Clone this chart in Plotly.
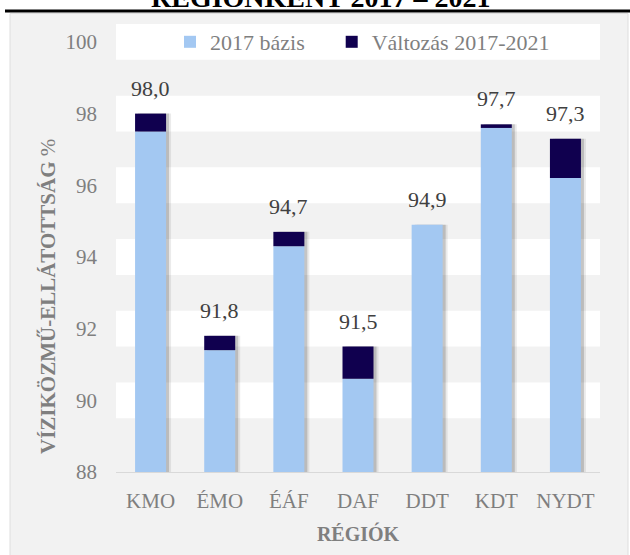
import plotly.graph_objects as go

# ---- data ----
regions = ["KMO", "ÉMO", "ÉÁF", "DAF", "DDT", "KDT", "NYDT"]
base_2017 = [97.5, 91.4, 94.3, 90.6, 94.9, 97.6, 96.2]
change_2017_2021 = [0.5, 0.4, 0.4, 0.9, 0.0, 0.1, 1.1]
y_ticks = [88, 90, 92, 94, 96, 98, 100]

totals = [round(b + c, 1) for b, c in zip(base_2017, change_2017_2021)]
labels = [f"{t:.1f}".replace(".", ",") for t in totals]

# ---- layout geometry (pixels) ----
W, H = 630, 555
L, R, T, B = 116, 30, 24, 83
PW, PH = W - L - R, H - T - B
cat_px = PW / len(regions)
bar_w = 31 / cat_px


def px_x(x):
    return (x - L) / PW


def px_y(y):
    return (H - B - y) / PH


FONT = "Liberation Serif, Times New Roman, serif"
LIGHT = "#a3c8f2"
DARK = "#10004f"
GRAY_TXT = "#7f7f7f"
NBSP = "\u00a0"

fig = go.Figure()

# soft drop shadow of the stacked bars
for shift, alpha in [(5, 0.08), (3, 0.16)]:
    fig.add_trace(go.Bar(
        x=regions, y=totals, width=bar_w, offset=-bar_w / 2 + shift / cat_px,
        marker=dict(color=f"rgba(0,0,0,{alpha})", line=dict(width=0)),
        showlegend=False, hoverinfo="skip",
    ))

fig.add_trace(go.Bar(
    x=regions, y=base_2017, name="2017 bázis" + NBSP * 4, width=bar_w,
    offset=-bar_w / 2, marker=dict(color=LIGHT, line=dict(width=0)),
))
fig.add_trace(go.Bar(
    x=regions, y=change_2017_2021, base=base_2017, name="Változás 2017-2021",
    width=bar_w, offset=-bar_w / 2,
    marker=dict(color=DARK, line=dict(width=0)),
))

shapes = [
    # grey chart panel
    dict(type="rect", xref="paper", yref="paper", layer="below",
         x0=px_x(10), x1=px_x(628), y0=px_y(556), y1=px_y(13.5),
         fillcolor="#f2f2f2", line=dict(color="#dedede", width=1)),
    # black rule under the title
    dict(type="line", xref="paper", yref="paper", layer="above",
         x0=px_x(5), x1=px_x(631), y0=px_y(11), y1=px_y(11),
         line=dict(color="black", width=3)),
]
# white bands around the even tick values
for v in y_ticks[1:]:
    shapes.append(dict(type="rect", xref="paper", yref="y", layer="below",
                       x0=0, x1=1, y0=v - 0.5, y1=v + 0.5,
                       fillcolor="white", line=dict(width=0)))

annotations = []
for r, t, lab in zip(regions, totals, labels):
    annotations.append(dict(x=r, y=t, text=lab, showarrow=False,
                            yanchor="bottom", yshift=11,
                            font=dict(family=FONT, size=22, color="#404040")))

annotations.append(dict(
    xref="paper", yref="paper", x=px_x(34), y=px_y(297),
    text="<b>VÍZIKÖZMŰ-ELLÁTOTTSÁG</b> %", textangle=-90, showarrow=False,
    font=dict(family=FONT, size=21, color=GRAY_TXT)))

annotations.append(dict(
    xref="paper", yref="paper", x=px_x(320), y=px_y(15), yanchor="bottom",
    text="<b>RÉGIÓNKÉNT 2017 – 2021</b>", showarrow=False,
    font=dict(family=FONT, size=28, color="black")))

fig.update_layout(
    width=W, height=H,
    margin=dict(l=L, r=R, t=T, b=B, pad=0, autoexpand=False),
    barmode="overlay",
    paper_bgcolor="white", plot_bgcolor="rgba(0,0,0,0)",
    font=dict(family=FONT, color=GRAY_TXT),
    shapes=shapes, annotations=annotations,
    legend=dict(orientation="h", x=px_x(170), y=px_y(42), yanchor="middle",
                xanchor="left", bgcolor="rgba(0,0,0,0)",
                font=dict(family=FONT, size=22, color=GRAY_TXT),
                traceorder="normal"),
    xaxis=dict(showgrid=False, showline=True, linecolor="#d9d9d9", linewidth=1,
               automargin=False,
               ticks="outside", ticklen=10, tickcolor="rgba(0,0,0,0)",
               tickfont=dict(family=FONT, size=21, color=GRAY_TXT),
               title=dict(text="<b>RÉGIÓK</b>", standoff=14,
                          font=dict(family=FONT, size=20, color=GRAY_TXT))),
    yaxis=dict(range=[88, 100.5], tickvals=y_ticks, showgrid=False,
               automargin=False,
               zeroline=False, showline=False, ticklabelstandoff=18,
               tickfont=dict(family=FONT, size=21, color=GRAY_TXT)),
)

fig.write_html(
    "out.html",
    config={"displayModeBar": False},
    post_script="document.body.style.margin='0';document.body.style.overflow='hidden';",
)
